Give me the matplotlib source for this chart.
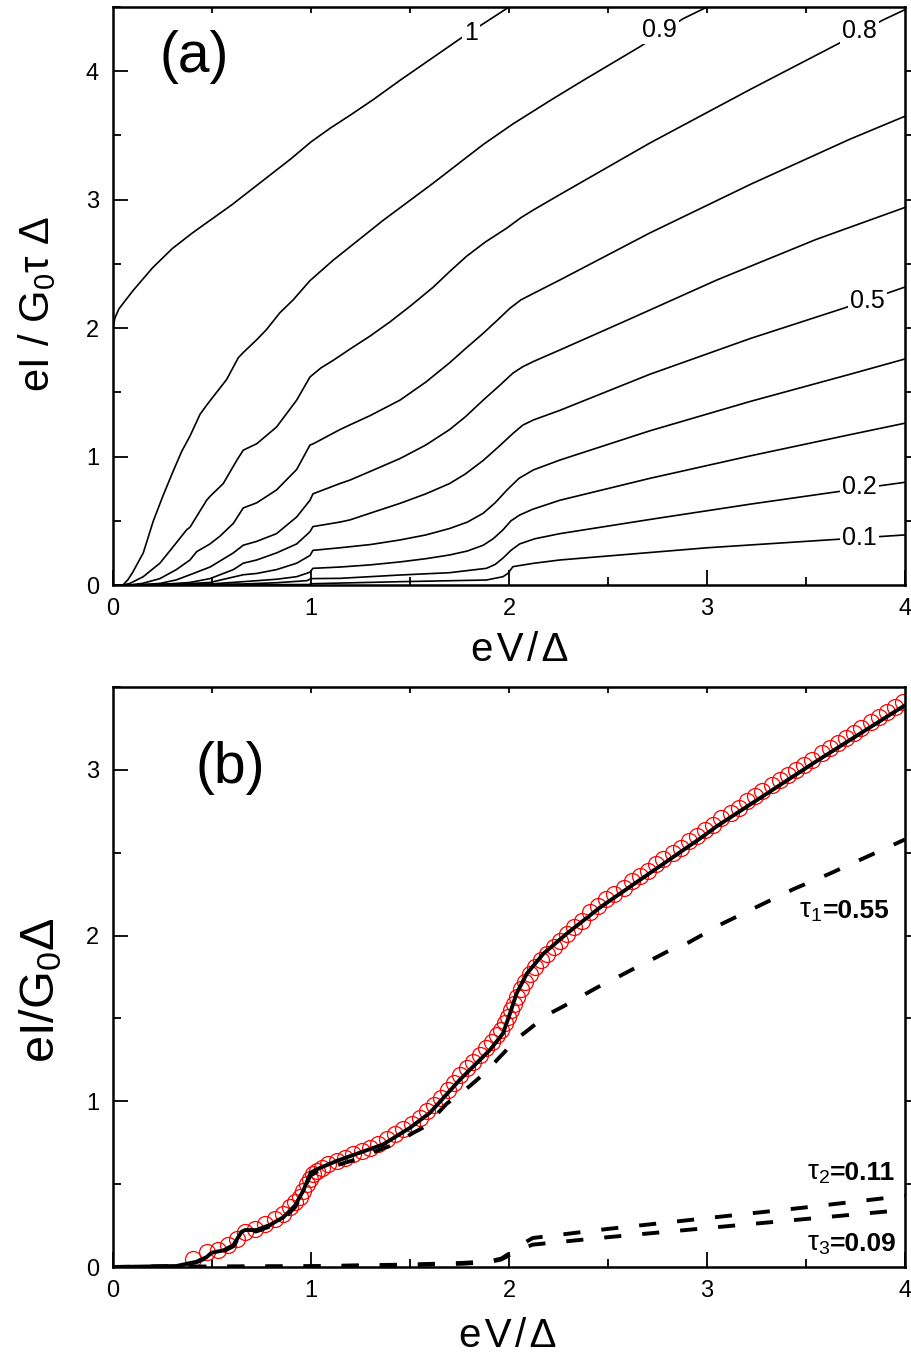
import matplotlib
matplotlib.use('Agg')
import matplotlib.pyplot as plt
from matplotlib.ticker import MultipleLocator

plt.rcParams['font.family'] = ['Liberation Sans', 'DejaVu Sans']
plt.rcParams['mathtext.fontset'] = 'custom'
plt.rcParams['mathtext.rm'] = 'Liberation Sans'
plt.rcParams['mathtext.it'] = 'Liberation Sans'
plt.rcParams['mathtext.bf'] = 'Liberation Sans:bold'

# ---- panel (a): theoretical I-V curves for several transmissions ----
tau_labels = ['1', '0.9', '0.8', '0.5', '0.2', '0.1']
label_x = [1.81, 2.76, 3.77, 3.81, 3.77, 3.77]
label_y = [4.30, 4.32, 4.31, 2.21, 0.765, 0.366]

x_t10 = [0, 0.01, 0.03, 0.07, 0.10, 0.15, 0.20, 0.30, 0.40, 0.50, 0.60, 0.70, 0.80, 0.90,
         1.0, 1.1, 1.2, 1.315, 1.45, 1.6, 1.75, 2.0]
y_t10 = [2.0, 2.08, 2.15, 2.23, 2.29, 2.38, 2.47, 2.62, 2.74, 2.85, 2.96, 3.08, 3.20, 3.32,
         3.45, 3.56, 3.66, 3.78, 3.93, 4.09, 4.25, 4.5]

x_t09 = [0, 0.05, 0.075, 0.10, 0.153, 0.204, 0.254, 0.305, 0.347, 0.389, 0.44, 0.473, 0.498,
         0.574, 0.633, 0.658, 0.726, 0.776, 0.843, 0.91, 0.944, 0.995, 1.113, 1.365, 1.618,
         1.87, 2.02, 2.216, 2.376, 2.66, 2.88, 3.0]
y_t09 = [0, 0.0, 0.04, 0.10, 0.25, 0.50, 0.70, 0.89, 1.04, 1.16, 1.33, 1.40, 1.45,
         1.60, 1.77, 1.81, 1.91, 1.99, 2.12, 2.22, 2.28, 2.37, 2.53, 2.84, 3.13,
         3.43, 3.59, 3.78, 3.93, 4.19, 4.41, 4.5]

x_t08 = [0, 0.05, 0.086, 0.153, 0.237, 0.305, 0.372, 0.389, 0.473, 0.49, 0.557, 0.625, 0.658,
         0.726, 0.826, 0.928, 0.995, 1.05, 1.113, 1.2, 1.3, 1.4, 1.5, 1.618, 1.7, 1.786,
         1.88, 1.99, 2.06, 2.123, 2.257, 2.71, 3.22, 3.67, 3.89, 4.0]
y_t08 = [0, 0.0, 0.013, 0.065, 0.17, 0.30, 0.43, 0.45, 0.66, 0.69, 0.79, 0.97, 1.05,
         1.10, 1.23, 1.44, 1.62, 1.69, 1.75, 1.84, 1.94, 2.05, 2.17, 2.32, 2.44, 2.56,
         2.67, 2.78, 2.86, 2.92, 3.04, 3.44, 3.86, 4.22, 4.40, 4.48]

x_t07 = [0, 0.08, 0.15, 0.237, 0.32, 0.389, 0.423, 0.49, 0.54, 0.608, 0.658, 0.726, 0.826,
         0.928, 0.995, 1.012, 1.146, 1.197, 1.3, 1.45, 1.58, 1.70, 1.78, 1.87, 1.94, 2.005,
         2.06, 2.123, 2.257, 2.71, 3.22, 3.72, 4.0]
y_t07 = [0, 0.0, 0.013, 0.05, 0.12, 0.195, 0.26, 0.32, 0.38, 0.48, 0.60, 0.64, 0.74,
         0.90, 1.09, 1.10, 1.21, 1.247, 1.32, 1.44, 1.58, 1.73, 1.84, 1.96, 2.06, 2.155,
         2.22, 2.27, 2.375, 2.74, 3.12, 3.47, 3.65]

x_t06 = [0, 0.12, 0.24, 0.32, 0.389, 0.49, 0.608, 0.658, 0.726, 0.826, 0.928, 0.995, 1.01,
         1.146, 1.197, 1.3, 1.45, 1.58, 1.70, 1.78, 1.87, 1.95, 2.02, 2.07, 2.123, 2.257,
         2.594, 3.05, 3.55, 4.0]
y_t06 = [0, 0.0, 0.013, 0.04, 0.08, 0.14, 0.25, 0.31, 0.34, 0.40, 0.53, 0.66, 0.71,
         0.79, 0.817, 0.885, 0.985, 1.09, 1.21, 1.31, 1.44, 1.55, 1.65, 1.70, 1.74, 1.83,
         2.06, 2.375, 2.69, 2.94]

x_t05 = [0, 0.2, 0.389, 0.49, 0.608, 0.658, 0.726, 0.826, 0.928, 0.995, 1.01, 1.146, 1.197,
         1.3, 1.45, 1.58, 1.70, 1.78, 1.87, 1.95, 2.02, 2.07, 2.123, 2.257, 2.71, 3.22,
         3.69, 4.0]
y_t05 = [0, 0.0, 0.02, 0.05, 0.12, 0.17, 0.195, 0.25, 0.32, 0.415, 0.455, 0.49, 0.507,
         0.56, 0.636, 0.71, 0.79, 0.865, 0.97, 1.08, 1.18, 1.245, 1.285, 1.36, 1.64, 1.92,
         2.155, 2.32]

x_t04 = [0, 0.32, 0.49, 0.658, 0.726, 0.826, 0.928, 0.995, 1.01, 1.146, 1.3, 1.45, 1.58,
         1.70, 1.79, 1.87, 1.93, 1.99, 2.05, 2.123, 2.257, 2.71, 3.22, 3.72, 4.0]
y_t04 = [0, 0.005, 0.02, 0.08, 0.09, 0.12, 0.17, 0.23, 0.27, 0.29, 0.315, 0.351, 0.39,
         0.44, 0.49, 0.559, 0.64, 0.74, 0.83, 0.896, 0.973, 1.20, 1.43, 1.64, 1.76]

x_t03 = [0, 0.49, 0.658, 0.826, 0.928, 0.995, 1.01, 1.146, 1.3, 1.45, 1.58, 1.70, 1.79,
         1.87, 1.92, 1.97, 2.01, 2.054, 2.12, 2.257, 2.71, 3.22, 3.72, 4.0]
y_t03 = [0, 0.008, 0.026, 0.045, 0.065, 0.10, 0.13, 0.14, 0.157, 0.18, 0.205, 0.234, 0.265,
         0.31, 0.36, 0.43, 0.50, 0.545, 0.59, 0.66, 0.83, 1.006, 1.17, 1.26]

x_t02 = [0, 0.658, 0.826, 0.98, 1.0, 1.146, 1.45, 1.70, 1.886, 1.93, 1.97, 2.01, 2.054,
         2.13, 2.257, 2.71, 3.22, 3.72, 4.0]
y_t02 = [0, 0.008, 0.018, 0.034, 0.05, 0.052, 0.078, 0.096, 0.13, 0.16, 0.21, 0.27, 0.32,
         0.36, 0.40, 0.51, 0.63, 0.74, 0.80]

x_t01 = [0, 0.99, 1.0, 1.45, 1.886, 1.97, 1.994, 2.02, 2.123, 2.257, 3.0, 3.7, 4.0]
y_t01 = [0, 0.004, 0.01, 0.026, 0.039, 0.065, 0.09, 0.143, 0.169, 0.195, 0.29, 0.36, 0.39]

# ---- panel (b): measured curve, total fit and three channels ----
exp_x = [0.406, 0.473, 0.532, 0.582, 0.625, 0.667, 0.717, 0.768, 0.818, 0.86,
         0.894, 0.919, 0.944, 0.961, 0.978, 0.995, 1.012, 1.03, 1.054, 1.088,
         1.13, 1.172, 1.214, 1.256, 1.298, 1.34, 1.382, 1.424, 1.466, 1.509,
         1.55, 1.584, 1.62, 1.655, 1.69, 1.72, 1.755, 1.79, 1.82, 1.855,
         1.885, 1.915, 1.94, 1.96, 1.98, 1.995, 2.01, 2.025, 2.04, 2.06,
         2.08, 2.105, 2.13, 2.16, 2.19, 2.225, 2.26, 2.295, 2.33, 2.37,
         2.41, 2.45, 2.49, 2.53, 2.58, 2.62, 2.66, 2.70, 2.74, 2.78,
         2.83, 2.87, 2.91, 2.95, 2.99, 3.03, 3.07, 3.12, 3.16, 3.20,
         3.24, 3.28, 3.33, 3.37, 3.41, 3.45, 3.49, 3.53, 3.58, 3.62,
         3.66, 3.70, 3.74, 3.78, 3.83, 3.87, 3.91, 3.95, 3.99]
exp_y = [0.051, 0.091, 0.10, 0.13, 0.17, 0.21, 0.23, 0.26, 0.29, 0.32,
         0.36, 0.39, 0.42, 0.46, 0.50, 0.53, 0.56, 0.58, 0.60, 0.62,
         0.64, 0.66, 0.68, 0.70, 0.72, 0.74, 0.77, 0.80, 0.83, 0.86,
         0.90, 0.94, 0.98, 1.02, 1.07, 1.11, 1.16, 1.20, 1.24, 1.28,
         1.32, 1.36, 1.40, 1.43, 1.47, 1.51, 1.55, 1.59, 1.63, 1.68,
         1.72, 1.77, 1.81, 1.85, 1.89, 1.93, 1.97, 2.01, 2.05, 2.09,
         2.14, 2.18, 2.22, 2.25, 2.29, 2.33, 2.36, 2.39, 2.43, 2.46,
         2.50, 2.53, 2.57, 2.60, 2.64, 2.67, 2.71, 2.74, 2.77, 2.81,
         2.84, 2.87, 2.91, 2.94, 2.97, 3.00, 3.03, 3.06, 3.10, 3.13,
         3.16, 3.19, 3.22, 3.25, 3.29, 3.32, 3.35, 3.38, 3.41]

fit_x = [0, 0.32, 0.42, 0.473, 0.498, 0.557, 0.608, 0.65, 0.667, 0.725, 0.793, 0.86, 0.919,
         0.961, 0.995, 1.0, 1.03, 1.13, 1.247, 1.365, 1.50, 1.60, 1.752, 1.904, 1.97, 2.005,
         2.038, 2.09, 2.173, 2.29, 2.46, 2.63, 2.80, 2.97, 3.05, 3.55, 4.0]
fit_y = [0, 0.006, 0.031, 0.06, 0.086, 0.10, 0.132, 0.213, 0.223, 0.223, 0.254, 0.30, 0.37,
         0.46, 0.56, 0.57, 0.59, 0.64, 0.69, 0.74, 0.84, 0.93, 1.13, 1.31, 1.41, 1.53,
         1.65, 1.77, 1.89, 2.01, 2.17, 2.31, 2.45, 2.59, 2.66, 3.05, 3.39]

t1_x = [0, 0.3, 0.42, 0.473, 0.498, 0.557, 0.608, 0.65, 0.667, 0.725, 0.793, 0.86, 0.919,
        0.961, 0.995, 1.03, 1.146, 1.23, 1.33, 1.41, 1.517, 1.58, 1.685, 1.80, 1.887, 1.94,
        1.98, 2.02, 2.097, 2.19, 2.27, 2.375, 2.45, 2.55, 2.63, 2.73, 2.81, 2.91, 3.074,
        3.436, 3.613, 4.0]
t1_y = [0, 0.005, 0.028, 0.055, 0.08, 0.095, 0.125, 0.205, 0.215, 0.215, 0.245, 0.29, 0.36,
        0.45, 0.55, 0.575, 0.62, 0.65, 0.70, 0.735, 0.81, 0.85, 0.985, 1.09, 1.18, 1.25,
        1.30, 1.36, 1.43, 1.52, 1.57, 1.64, 1.69, 1.75, 1.80, 1.86, 1.91, 1.96, 2.07,
        2.28, 2.37, 2.58]

t23_x = [0, 1.0, 1.5, 1.77, 1.9, 1.96, 2.0, 2.04, 2.12, 2.5, 3.0, 3.5, 4.0]
t2_y = [0.0, 0.005, 0.015, 0.025, 0.035, 0.05, 0.08, 0.12, 0.175, 0.23, 0.295, 0.36, 0.43]
t3_y = [0.0, 0.004, 0.012, 0.02, 0.03, 0.045, 0.07, 0.10, 0.135, 0.18, 0.235, 0.29, 0.345]

chan_names = ['τ$_1$', 'τ$_2$', 'τ$_3$']
chan_values = ['=0.55', '=0.11', '=0.09']
chan_x = [3.92, 3.95, 3.96]
chan_y = [2.15, 0.57, 0.14]

fig = plt.figure(figsize=(9.11, 13.58), dpi=100)
axa = fig.add_axes([0.124, 0.5692, 0.8694, 0.4256])
axb = fig.add_axes([0.124, 0.0670, 0.8694, 0.4271])


def style(ax, ymax, yticks):
    ax.set_xlim(0, 4)
    ax.set_ylim(0, ymax)
    ax.set_xticks([0, 1, 2, 3, 4])
    ax.set_yticks(yticks)
    ax.xaxis.set_minor_locator(MultipleLocator(0.5))
    ax.yaxis.set_minor_locator(MultipleLocator(0.5))
    ax.tick_params(which='major', direction='in', length=11, width=1.3, labelsize=17)
    ax.tick_params(which='minor', direction='in', length=6, width=1.3)
    ax.tick_params(axis='x', which='major', pad=9)
    ax.tick_params(axis='y', which='major', pad=10)
    for s in ax.spines.values():
        s.set_linewidth(1.8)
    top = ax.secondary_xaxis('top')
    top.set_xticks([0.5, 1, 1.5, 2, 2.5, 3, 3.5])
    top.tick_params(direction='in', length=4, width=1.3, labeltop=False)
    right = ax.secondary_yaxis('right')
    right.set_yticks([v * 0.5 for v in range(1, int(ymax * 2))])
    right.tick_params(direction='out', length=5, width=1.3, labelright=False)


style(axa, 4.5, [0, 1, 2, 3, 4])
for xs, ys in [(x_t10, y_t10), (x_t09, y_t09), (x_t08, y_t08), (x_t07, y_t07),
               (x_t06, y_t06), (x_t05, y_t05), (x_t04, y_t04), (x_t03, y_t03),
               (x_t02, y_t02), (x_t01, y_t01)]:
    axa.plot(xs, ys, color='black', lw=1.2, solid_joinstyle='round')
for s, lx, ly in zip(tau_labels, label_x, label_y):
    axa.text(lx, ly, s, fontsize=18, ha='center', va='center', zorder=5,
             bbox=dict(fc='white', ec='none', pad=1.5))
axa.text(0.41, 4.11, '(a)', fontsize=41, ha='center', va='center')
axa.set_xlabel('e\u200aV\u200a/\u200aΔ', fontsize=29, va='center')
axa.xaxis.set_label_coords(0.513, -0.112)
axa.set_ylabel('eI / G$_0$τ Δ', fontsize=30, va='center')
axa.yaxis.set_label_coords(-0.096, 0.486)

style(axb, 3.5, [0, 1, 2, 3])
axb.plot(exp_x, exp_y, 'o', mfc='none', mec='red', ms=11.5, mew=0.9, zorder=2)
axb.plot(fit_x, fit_y, color='black', lw=2.8, zorder=3, solid_joinstyle='round')
axb.plot(t1_x, t1_y, color='black', lw=2.8, dashes=(4.4, 5.4), zorder=3)
axb.plot(t23_x, t2_y, color='black', lw=2.8, dashes=(4.4, 5.4), zorder=3)
axb.plot(t23_x, t3_y, color='black', lw=2.8, dashes=(4.4, 5.4), zorder=3)
for nm, val, cx, cy in zip(chan_names, chan_values, chan_x, chan_y):
    t = axb.text(cx, cy, val, fontsize=19, fontweight='bold', ha='right', va='center')
    axb.annotate(nm, xy=(0, 0.5), xycoords=t, fontsize=20, ha='right', va='center')
axb.text(0.59, 3.01, '(b)', fontsize=41, ha='center', va='center')
axb.set_xlabel('e\u200aV\u200a/\u200aΔ', fontsize=29, va='center')
axb.xaxis.set_label_coords(0.499, -0.119)
axb.set_ylabel('eI/G$_0$Δ', fontsize=35, va='center')
axb.yaxis.set_label_coords(-0.091, 0.478)

fig.savefig('out.png', dpi=100)
